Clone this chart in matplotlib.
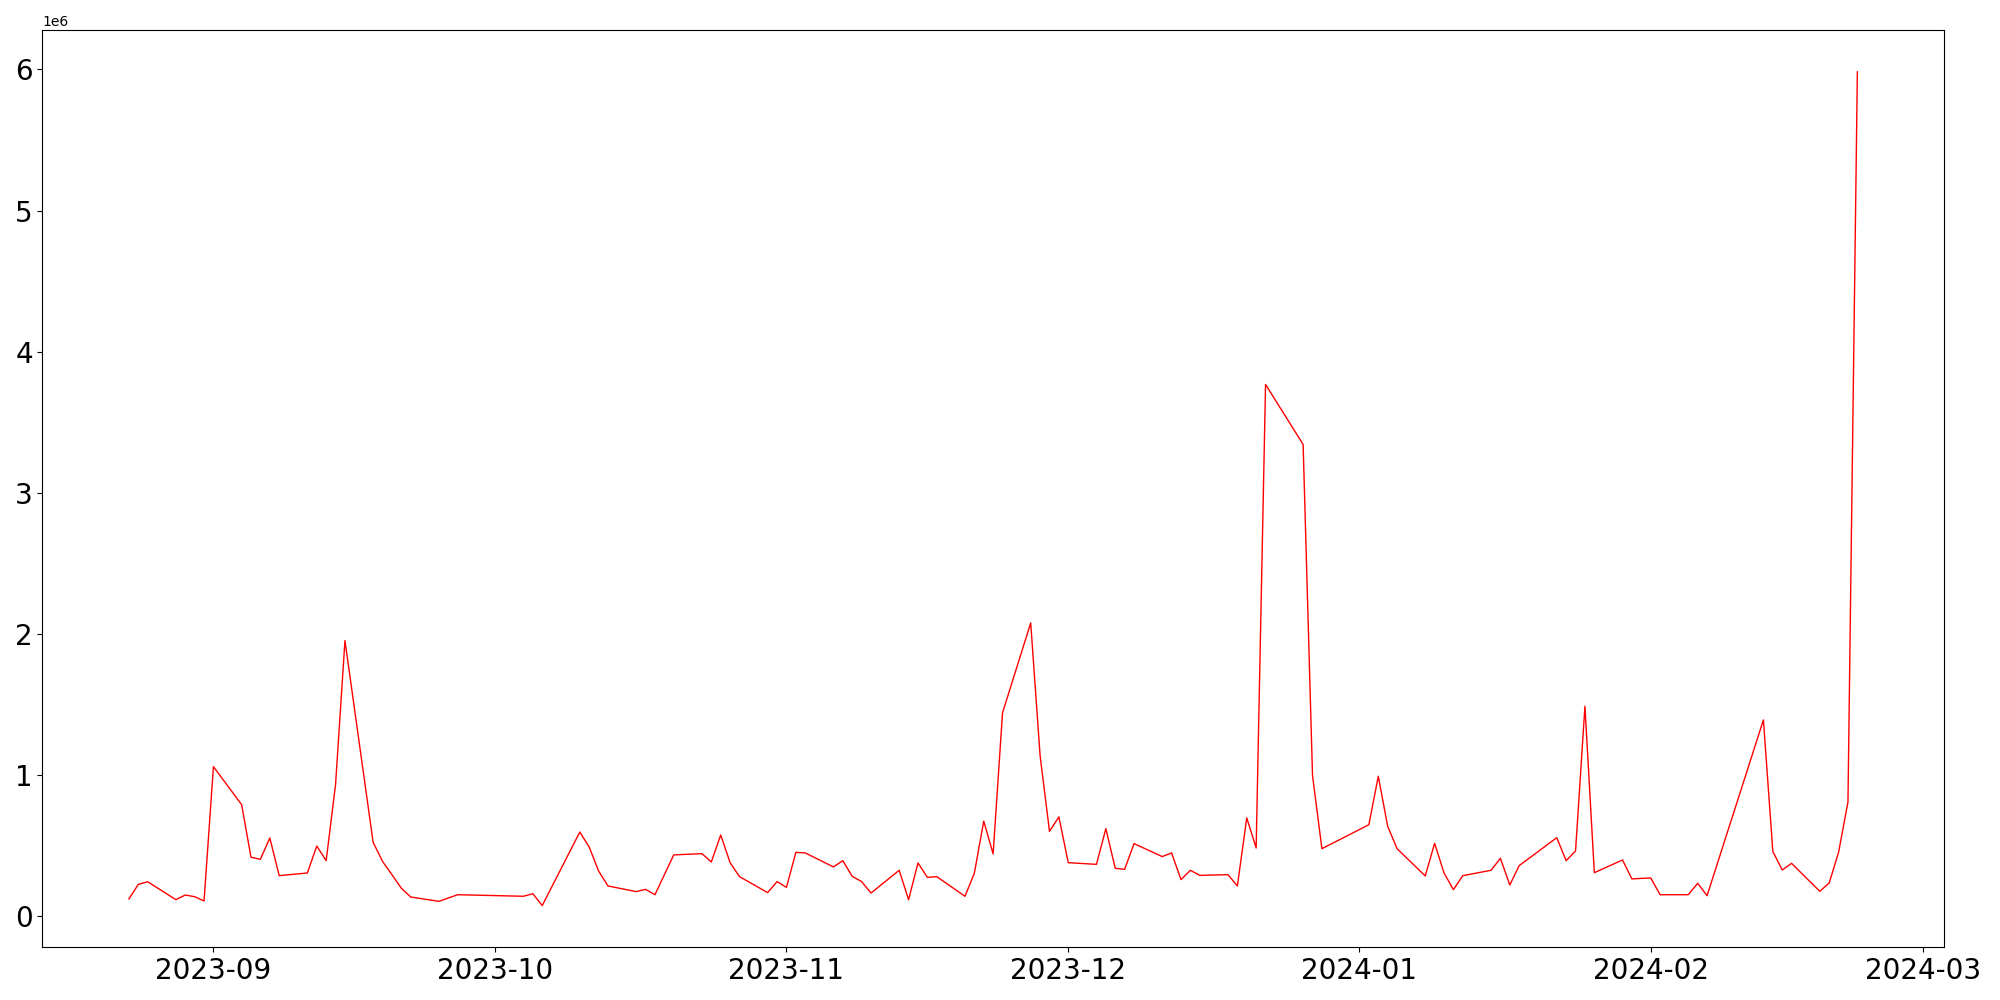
import matplotlib
matplotlib.use('Agg')
import matplotlib.pyplot as plt
import numpy as np
import pandas as pd

# Dates of the observations
dates = pd.to_datetime([
    '2023-08-23', '2023-08-24', '2023-08-25', '2023-08-28', '2023-08-29', '2023-08-30', '2023-08-31',
    '2023-09-01', '2023-09-04', '2023-09-05', '2023-09-06', '2023-09-07', '2023-09-08',
    '2023-09-11', '2023-09-12', '2023-09-13', '2023-09-14', '2023-09-15',
    '2023-09-18', '2023-09-19', '2023-09-20', '2023-09-21', '2023-09-22',
    '2023-09-25', '2023-09-27',
    '2023-10-04', '2023-10-05', '2023-10-06',
    '2023-10-10', '2023-10-11', '2023-10-12', '2023-10-13',
    '2023-10-16', '2023-10-17', '2023-10-18', '2023-10-20',
    '2023-10-23', '2023-10-24', '2023-10-25', '2023-10-26', '2023-10-27',
    '2023-10-30', '2023-10-31', '2023-11-01', '2023-11-02', '2023-11-03',
    '2023-11-06', '2023-11-07', '2023-11-08', '2023-11-09', '2023-11-10',
    '2023-11-13', '2023-11-14', '2023-11-15', '2023-11-16', '2023-11-17',
    '2023-11-20', '2023-11-21', '2023-11-22', '2023-11-23', '2023-11-24',
    '2023-11-27', '2023-11-28', '2023-11-29', '2023-11-30', '2023-12-01',
    '2023-12-04', '2023-12-05', '2023-12-06', '2023-12-07', '2023-12-08',
    '2023-12-11', '2023-12-12', '2023-12-13', '2023-12-14', '2023-12-15',
    '2023-12-18', '2023-12-19', '2023-12-20', '2023-12-21', '2023-12-22',
    '2023-12-26', '2023-12-27', '2023-12-28',
    '2024-01-02', '2024-01-03', '2024-01-04', '2024-01-05',
    '2024-01-08', '2024-01-09', '2024-01-10', '2024-01-11', '2024-01-12',
    '2024-01-15', '2024-01-16', '2024-01-17', '2024-01-18',
    '2024-01-22', '2024-01-23', '2024-01-24', '2024-01-25', '2024-01-26',
    '2024-01-29', '2024-01-30', '2024-02-01', '2024-02-02',
    '2024-02-05', '2024-02-06', '2024-02-07',
    '2024-02-13', '2024-02-14', '2024-02-15', '2024-02-16',
    '2024-02-19', '2024-02-20', '2024-02-21', '2024-02-22', '2024-02-23',
])

# Values (millions)
values = np.array([
    0.124, 0.227, 0.246, 0.119, 0.152, 0.140, 0.110,
    1.061, 0.792, 0.419, 0.405, 0.556, 0.289,
    0.308, 0.499, 0.395, 0.934, 1.954,
    0.525, 0.390, 0.296, 0.200, 0.138,
    0.107, 0.154,
    0.143, 0.161, 0.077,
    0.598, 0.492, 0.322, 0.216,
    0.176, 0.192, 0.154, 0.436,
    0.445, 0.386, 0.577, 0.381, 0.282,
    0.169, 0.247, 0.206, 0.454, 0.450,
    0.351, 0.395, 0.284, 0.247, 0.166,
    0.327, 0.119, 0.379, 0.277, 0.282,
    0.143, 0.306, 0.675, 0.443, 1.442,
    2.079, 1.139, 0.603, 0.705, 0.381,
    0.369, 0.622, 0.341, 0.334, 0.516,
    0.424, 0.450, 0.261, 0.327, 0.291,
    0.296, 0.216, 0.698, 0.485, 3.768,
    3.343, 0.998, 0.480,
    0.650, 0.993, 0.639, 0.480,
    0.287, 0.518, 0.308, 0.190, 0.289,
    0.327, 0.412, 0.223, 0.360,
    0.558, 0.395, 0.464, 1.489, 0.310,
    0.400, 0.266, 0.273, 0.154,
    0.154, 0.235, 0.147,
    1.392, 0.461, 0.329, 0.376,
    0.178, 0.237, 0.454, 0.811, 5.982,
]) * 1e6

fig, ax = plt.subplots(figsize=(20, 10), dpi=100)
ax.plot(dates, values, color='red', linewidth=1)

ax.tick_params(axis='both', labelsize=20)

plt.tight_layout()
plt.savefig('out.png')
